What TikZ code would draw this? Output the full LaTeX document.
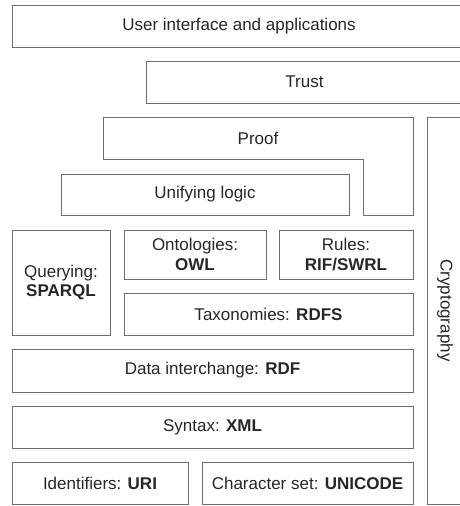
\documentclass[tikz,border=0pt]{standalone}
\usepackage{fontspec}
\setmainfont{Liberation Sans}
\definecolor{linec}{HTML}{6E6E6E}
\definecolor{textc}{HTML}{262626}
\begin{document}
\begin{tikzpicture}[x=1pt,y=-1pt,
  box/.style={draw=linec, line width=1pt, rectangle, inner sep=0pt, align=center,
    text=textc, font=\fontsize{17}{19.5}\selectfont},
  lbl/.style={inner sep=0pt, align=center, text=textc, font=\fontsize{17}{19.5}\selectfont}]
\useasboundingbox (0,0) rectangle (460,506);
\clip (0,0) rectangle (460,506);
\node[box, minimum width=454pt, minimum height=42pt] (ui) at (239,26) {User interface and applications};
\node[box, minimum width=317pt, minimum height=42pt] (trust) at (304.5,82) {Trust};
\draw[draw=linec, line width=1pt] (103,117) -- (413,117) -- (413,215) -- (363,215) -- (363,159) -- (103,159) -- cycle;
\node[lbl] (proof) at (258,138) {Proof};
\node[box, minimum width=288pt, minimum height=41pt] (unify) at (205,194.5) {Unifying logic};
\node[box, minimum width=98pt, minimum height=105pt] (query) at (61,282.5) {Querying:\\\textbf{SPARQL}};
\node[box, minimum width=142pt, minimum height=49pt] (onto) at (195,254.5) {Ontologies:\\\textbf{OWL}};
\node[box, minimum width=134pt, minimum height=49pt] (rules) at (346,254.5) {Rules:\\\textbf{RIF/SWRL}};
\node[box, minimum width=289pt, minimum height=42pt] (tax) at (268.5,314) {Taxonomies: \textbf{RDFS}};
\node[box, minimum width=401pt, minimum height=43pt] (rdf) at (212.5,370.5) {Data interchange: \textbf{RDF}};
\node[box, minimum width=401pt, minimum height=42pt] (xml) at (212.5,427) {Syntax: \textbf{XML}};
\node[box, minimum width=176pt, minimum height=42pt] (uri) at (100,483) {Identifiers: \textbf{URI}};
\node[box, minimum width=211pt, minimum height=42pt] (unicode) at (307.5,483) {Character set: \textbf{UNICODE}};
\node[box, minimum width=36pt, minimum height=387pt] (crypto) at (445,310.5) {};
\node[lbl, rotate=-90] (cryptotext) at (crypto.center) {Cryptography};
\end{tikzpicture}
\end{document}
